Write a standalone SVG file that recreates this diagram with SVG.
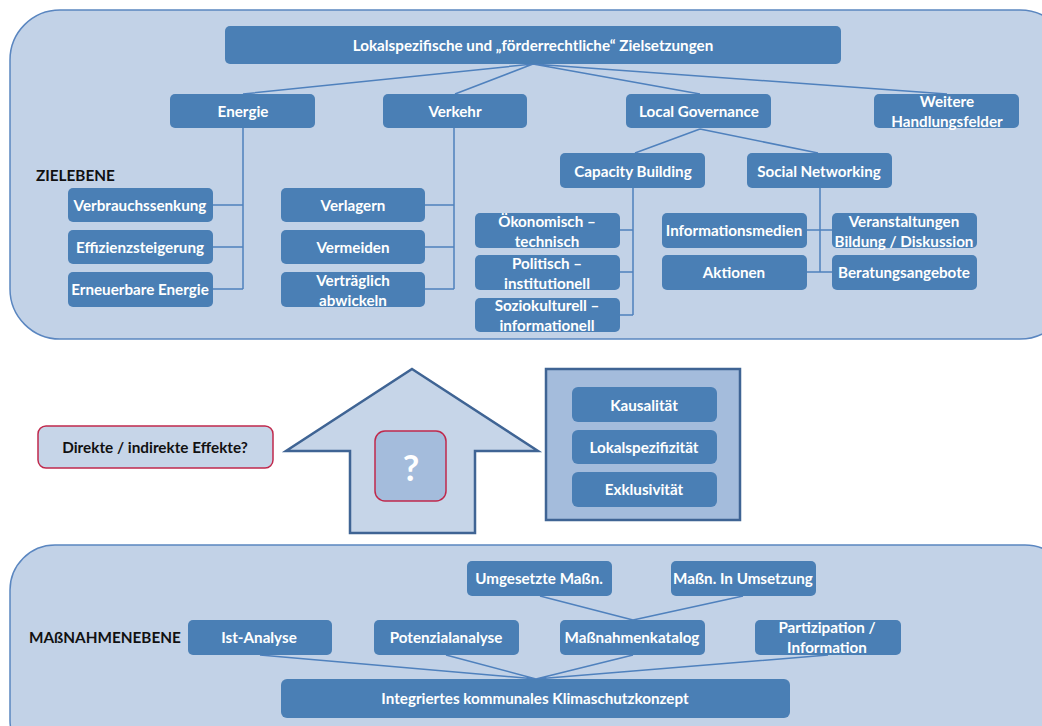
<svg xmlns="http://www.w3.org/2000/svg" width="1042" height="726" viewBox="0 0 1042 726">
<style>
.panel{fill:#c2d2e7;stroke:#5a86c0;stroke-width:1.5}
.n{fill:#4a7fb5}
.t{font-family:Lato,"Open Sans",sans-serif;font-weight:bold;font-size:15.2px;fill:#fff;text-anchor:middle;dominant-baseline:central}
.k{font-family:Lato,"Open Sans",sans-serif;font-weight:bold;font-size:15.3px;fill:#111;dominant-baseline:central}
.c{fill:none;stroke:#4f81bd;stroke-width:1.5}
</style>
<rect width="1042" height="726" fill="#fff"/>
<rect class="panel" x="10" y="10" width="1060" height="329" rx="50"/>
<rect class="panel" x="10" y="545" width="1060" height="220" rx="45"/>
<text class="k" x="36" y="175">ZIELEBENE</text>
<text class="k" x="29" y="637">MAßNAHMENEBENE</text>
<g id="connectors">
<path class="c" d="M533,64L243,94M533,64L455,94M533,64L700,94M533,64L947,94"/>
<path class="c" d="M243,128V289M213,205H243M213,247H243M213,289H243"/>
<path class="c" d="M454,128V289M425,205H454M425,247H454M425,289H454"/>
<path class="c" d="M700,129L635,153M700,129L818,153"/>
<path class="c" d="M633,188V315M620,230H633M620,272H633M620,315H633"/>
<path class="c" d="M820,188V272M807,230H832M807,272H832"/>
<path class="c" d="M540,596L633,620M743,596L633,620"/>
<path class="c" d="M260,655L536,679M446,655L536,679M633,655L536,679M828,655L536,679"/>
</g>
<g id="n-top"><rect class="n" x="225" y="26" width="616" height="38" rx="5"/><text class="t" x="533" y="45">Lokalspezifische und „förderrechtliche“ Zielsetzungen</text></g>
<g id="n-energie"><rect class="n" x="170" y="94" width="145" height="34" rx="5"/><text class="t" x="243" y="111">Energie</text></g>
<g id="n-verkehr"><rect class="n" x="383" y="94" width="144" height="34" rx="5"/><text class="t" x="455" y="111">Verkehr</text></g>
<g id="n-lg"><rect class="n" x="626" y="94" width="145" height="34" rx="5"/><text class="t" x="699" y="111">Local Governance</text></g>
<g id="n-weitere"><rect class="n" x="874" y="94" width="145" height="34" rx="5"/><text class="t" x="947" y="101">Weitere</text><text class="t" x="947" y="121">Handlungsfelder</text></g>
<g id="n-verbrauch"><rect class="n" x="68" y="188" width="145" height="34" rx="5"/><text class="t" x="140" y="205">Verbrauchssenkung</text></g>
<g id="n-effizienz"><rect class="n" x="68" y="230" width="145" height="34" rx="5"/><text class="t" x="140" y="247">Effizienzsteigerung</text></g>
<g id="n-erneuerbar"><rect class="n" x="68" y="272" width="145" height="35" rx="5"/><text class="t" x="140" y="289">Erneuerbare Energie</text></g>
<g id="n-verlagern"><rect class="n" x="281" y="188" width="144" height="34" rx="5"/><text class="t" x="353" y="205">Verlagern</text></g>
<g id="n-vermeiden"><rect class="n" x="281" y="230" width="144" height="34" rx="5"/><text class="t" x="353" y="247">Vermeiden</text></g>
<g id="n-vertraeglich"><rect class="n" x="281" y="272" width="144" height="35" rx="5"/><text class="t" x="353" y="280">Verträglich</text><text class="t" x="353" y="300">abwickeln</text></g>
<g id="n-cb"><rect class="n" x="560" y="153" width="145" height="35" rx="5"/><text class="t" x="633" y="171">Capacity Building</text></g>
<g id="n-sn"><rect class="n" x="747" y="153" width="145" height="35" rx="5"/><text class="t" x="819" y="171">Social Networking</text></g>
<g id="n-oeko"><rect class="n" x="475" y="213" width="145" height="35" rx="5"/><text class="t" x="547" y="221">Ökonomisch –</text><text class="t" x="547" y="241">technisch</text></g>
<g id="n-polit"><rect class="n" x="475" y="255" width="145" height="35" rx="5"/><text class="t" x="547" y="263">Politisch –</text><text class="t" x="547" y="283">institutionell</text></g>
<g id="n-sozio"><rect class="n" x="475" y="298" width="145" height="34" rx="5"/><text class="t" x="547" y="305">Soziokulturell –</text><text class="t" x="547" y="325">informationell</text></g>
<g id="n-infomedien"><rect class="n" x="662" y="213" width="145" height="35" rx="5"/><text class="t" x="734" y="230">Informationsmedien</text></g>
<g id="n-aktionen"><rect class="n" x="662" y="255" width="145" height="35" rx="5"/><text class="t" x="734" y="272">Aktionen</text></g>
<g id="n-veranst"><rect class="n" x="832" y="213" width="145" height="35" rx="5"/><text class="t" x="904" y="221">Veranstaltungen</text><text class="t" x="904" y="241">Bildung / Diskussion</text></g>
<g id="n-beratung"><rect class="n" x="832" y="255" width="145" height="35" rx="5"/><text class="t" x="904" y="272">Beratungsangebote</text></g>
<g id="arrow"><path d="M412,369L538,451H475V533H350V451H286Z" fill="#c6d5e8" stroke="#3f6494" stroke-width="2.5" stroke-linejoin="miter"/></g>
<g id="n-question"><rect x="375" y="431" width="71" height="70" rx="10" fill="#a4bcdc" stroke="#c0294c" stroke-width="1.5"/><text x="411" y="467" font-family="Lato,sans-serif" font-weight="bold" font-size="36" fill="#fff" text-anchor="middle" dominant-baseline="central">?</text></g>
<g id="n-direkte"><rect x="38" y="426" width="235" height="42" rx="8" fill="#c6d5e8" stroke="#c0294c" stroke-width="1.5"/><text class="k" x="155" y="447" text-anchor="middle" font-size="16.8">Direkte / indirekte Effekte?</text></g>
<g id="n-criteria"><rect x="546" y="369" width="194" height="151" fill="#a4bcdc" stroke="#3f6494" stroke-width="2.5"/></g>
<g id="n-kausal"><rect class="n" x="572" y="387" width="145" height="35" rx="6"/><text class="t" x="644" y="405">Kausalität</text></g>
<g id="n-lokal"><rect class="n" x="572" y="430" width="145" height="34" rx="6"/><text class="t" x="644" y="447">Lokalspezifizität</text></g>
<g id="n-exkl"><rect class="n" x="572" y="472" width="145" height="35" rx="6"/><text class="t" x="644" y="489">Exklusivität</text></g>
<g id="n-umges"><rect class="n" x="467" y="561" width="145" height="35" rx="5"/><text class="t" x="539" y="578">Umgesetzte Maßn.</text></g>
<g id="n-inumsetz"><rect class="n" x="671" y="561" width="145" height="35" rx="5"/><text class="t" x="743" y="578">Maßn. In Umsetzung</text></g>
<g id="n-ist"><rect class="n" x="188" y="620" width="144" height="35" rx="5"/><text class="t" x="259" y="637">Ist-Analyse</text></g>
<g id="n-potenzial"><rect class="n" x="374" y="620" width="145" height="35" rx="5"/><text class="t" x="446" y="637">Potenzialanalyse</text></g>
<g id="n-katalog"><rect class="n" x="560" y="620" width="145" height="35" rx="5"/><text class="t" x="632" y="637">Maßnahmenkatalog</text></g>
<g id="n-partiz"><rect class="n" x="755" y="620" width="146" height="35" rx="5"/><text class="t" x="827" y="627">Partizipation /</text><text class="t" x="827" y="647">Information</text></g>
<g id="n-ikk"><rect class="n" x="281" y="679" width="509" height="39" rx="6"/><text class="t" x="535" y="698">Integriertes kommunales Klimaschutzkonzept</text></g>
</svg>
